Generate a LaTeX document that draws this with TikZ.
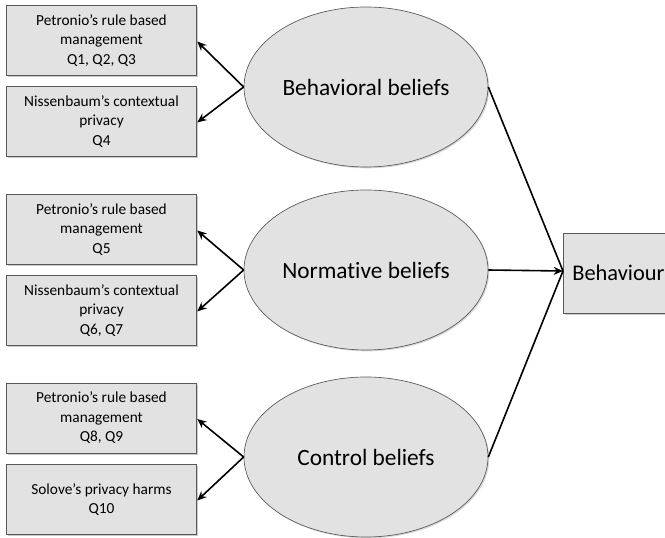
\documentclass[tikz,border=0pt]{standalone}
\usepackage{fontspec}
\setmainfont{Carlito}[Ligatures=NoCommon]
\usetikzlibrary{arrows.meta,shadows,shapes.geometric}
\definecolor{boxfill}{HTML}{E2E2E2}
\definecolor{boxline}{HTML}{595959}
\begin{document}
\begin{tikzpicture}[x=0.75pt,y=-0.75pt,
  srcbox/.style={draw=boxline,fill=boxfill,line width=0.6pt,minimum width=143pt,
    minimum height=52.5pt,align=center,font=\fontsize{11.5}{14.6}\selectfont,inner sep=0pt,
    drop shadow={shadow xshift=1.2pt,shadow yshift=-1.2pt,fill=black!35,opacity=0.6}},
  belief/.style={ellipse,draw=black!65,fill=boxfill,line width=0.5pt,minimum width=183pt,
    minimum height=120pt,inner sep=0pt,font=\fontsize{17.5}{20}\selectfont,
    drop shadow={shadow xshift=1pt,shadow yshift=-1pt,fill=black!30,opacity=0.5}},
  outbox/.style={draw=boxline,fill=boxfill,line width=0.6pt,minimum width=77pt,
    minimum height=60pt,inner sep=0pt,font=\fontsize{16.8}{20}\selectfont,
    drop shadow={shadow xshift=1.2pt,shadow yshift=-1.2pt,fill=black!35,opacity=0.6}},
  link/.style={line width=1.2pt,-{Stealth[length=7pt,width=6pt]}},
  feed/.style={line width=1.2pt},
]
\useasboundingbox (0,0) rectangle (665,538);

% behavioural beliefs group
\node[srcbox] (p1) at (101.5,40.5) {Petronio’s rule based\\management\\Q1, Q2, Q3};
\node[srcbox] (n1) at (101.5,121.5) {Nissenbaum’s contextual\\privacy\\Q4};
\node[belief] (bb) at (366,87) {Behavioral beliefs};

% normative beliefs group
\node[srcbox] (p2) at (101.5,229.5) {Petronio’s rule based\\management\\Q5};
\node[srcbox] (n2) at (101.5,310.5) {Nissenbaum’s contextual\\privacy\\Q6, Q7};
\node[belief] (nb) at (366,270) {Normative beliefs};

% control beliefs group
\node[srcbox] (p3) at (101.5,418) {Petronio’s rule based\\management\\Q8, Q9};
\node[srcbox] (s3) at (101.5,499.5) {Solove’s privacy harms\\Q10};
\node[belief] (cb) at (366,457) {Control beliefs};

% outcome
\node[outbox,anchor=west] (beh) at (563,273) {\hspace*{5.5pt}Behaviour\hfill};
\coordinate (in) at (563,271);

% arrows from each belief to its sources
\foreach \e/\a/\b in {bb/p1/n1, nb/p2/n2, cb/p3/s3}{
  \draw[link] (\e.west) -- ([yshift=-0.75pt]\a.east);
  \draw[link] (\e.west) -- ([yshift=-0.75pt]\b.east);
}

% beliefs feeding into behaviour
\draw[feed] (bb.east) -- (in);
\draw[feed] (cb.east) -- (in);
\draw[link] (nb.east) -- (in);
\end{tikzpicture}
\end{document}
